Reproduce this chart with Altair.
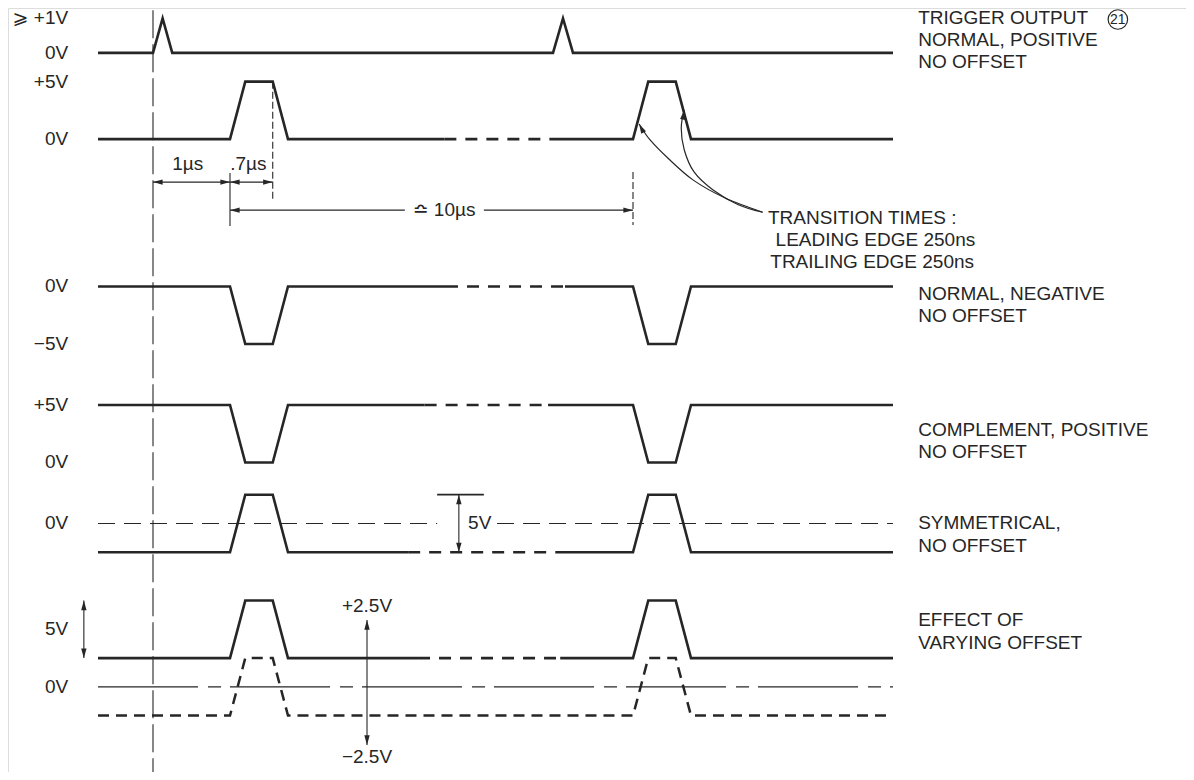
import altair as alt
import pandas as pd

# ---------------- signal data (time in µs, levels in volts) ----------------
T_START, T_END = -0.7, 14.6
TRIGGER_AT = [0.0, 10.0]          # trigger output spikes
TRIGGER_WIDTH = 0.25
TRIGGER_PEAK = 3.0                # "≥ +1V" spike as drawn
PULSE_AT = [1.0, 11.0]            # output pulse starts: 1 µs delay, 10 µs period
EDGE = 0.25                       # 250 ns leading / trailing edges
PULSE_WIDTH = 0.7                 # .7 µs

LANES = ["pos", "neg", "comp", "sym", "offs", "offs_low"]
REST_V = [0.0, 0.0, 5.0, -2.5, 2.5, -2.5]
ACTIVE_V = [5.0, -5.0, 0.0, 2.5, 7.5, 2.5]
BREAK_FROM = [6.7, 6.75, 6.1, 5.6, 5.9, None]   # time-break (dashed) section
BREAK_TO = [10.05, 10.15, 9.85, 10.03, 10.09, None]

# ---------------- layout (diagram units) ----------------
LANE_ZERO = {"trig": -3.9, "pos": -11.4, "neg": -24.2, "comp": -39.5,
             "sym": -44.8, "offs": -59.0, "offs_low": -59.0}
T_KNOTS = [-0.7, 0, 1, 1.95, 10, 11, 11.95, 14.6]     # not-to-scale time axis
X_RANGE = [90, 145, 222, 280, 545, 625, 683, 885]
Y_DOMAIN = [-66.4, 0]

rows = []


def add(seg, style, pts, zero=0.0):
    for i, (t, v) in enumerate(pts):
        rows.append(dict(id=seg, style=style, i=i, t=t, D=zero + v))


def wave(t0, t1, rest, active):
    pts = [(t0, rest)]
    for p in PULSE_AT:
        if t0 < p and p + PULSE_WIDTH + EDGE < t1:
            pts += [(p, rest), (p + EDGE, active), (p + PULSE_WIDTH, active),
                    (p + PULSE_WIDTH + EDGE, rest)]
    pts.append((t1, rest))
    return pts


# trigger output
trig = [(T_START, 0)]
for p in TRIGGER_AT:
    trig += [(p, 0), (p + TRIGGER_WIDTH / 2, TRIGGER_PEAK), (p + TRIGGER_WIDTH, 0)]
trig.append((T_END, 0))
add("trig", "solid", trig, LANE_ZERO["trig"])

for lane, r, a, b0, b1 in zip(LANES, REST_V, ACTIVE_V, BREAK_FROM, BREAK_TO):
    z = LANE_ZERO[lane]
    if b0 is None:
        add(lane, "offdash", wave(T_START, T_END, r, a), z)
    else:
        add(lane + "_a", "solid", wave(T_START, b0, r, a), z)
        add(lane + "_b", "dash", wave(b0, b1, r, a), z)
        add(lane + "_c", "solid", wave(b1, T_END, r, a), z)

# reference 0V lines
add("sym0a", "ref", [(T_START, 0), (6.48, 0)], LANE_ZERO["sym"])
add("sym0b", "ref", [(8.3, 0), (T_END, 0)], LANE_ZERO["sym"])
add("offs0", "phantom", [(T_START, 0), (T_END, 0)], LANE_ZERO["offs"])
add("tline", "tline", [(0, -0.2), (0, -66.4)])

# dimension / annotation lines
sz, oz = LANE_ZERO["sym"], LANE_ZERO["offs"]
add("d1", "ann", [(0, -15.13), (1, -15.13)])
add("d07", "ann", [(1, -15.13), (1.7, -15.13)])
add("d10a", "ann", [(1, -17.57), (5.5, -17.57)])
add("d10b", "ann", [(7.9, -17.57), (11, -17.57)])
add("m1", "ann", [(1, -14.34), (1, -18.95)])
add("bar5", "bar", [(6.48, 2.5), (7.9, 2.5)], sz)
add("v5", "ann", [(7.14, 2.5), (7.14, -2.5)], sz)
add("vo5", "ann", [(-0.88, 7.5), (-0.88, 2.5)], oz)
add("v25", "ann", [(4.35, 5.8), (4.35, -5.05)], oz)
add("m17", "annd", [(1.7, -6.4), (1.7, -16.69)])
add("m11", "annd", [(11, -14.25), (11, -18.86)])
add("c1", "curve", [(11.10, -10.08), (11.28, -11.47), (11.57, -13.04), (11.98, -14.96),
                    (12.40, -16.52), (12.89, -17.75)])
add("c2", "curve", [(11.84, -8.87), (11.79, -10.43), (11.84, -12.34), (11.99, -14.25),
                    (12.24, -15.82), (12.57, -17.1), (12.89, -17.75)])

lines = pd.DataFrame(rows)

heads = pd.DataFrame([
    (0, -15.13, 270), (1, -15.13, 90), (1, -15.13, 270), (1.7, -15.13, 90),
    (1, -17.57, 270), (11, -17.57, 90),
    (7.14, sz + 2.5, 0), (7.14, sz - 2.5, 180),
    (-0.88, oz + 7.5, 0), (-0.88, oz + 2.5, 180),
    (4.35, oz + 5.8, 0), (4.35, oz - 5.05, 180),
    (11.10, -10.08, 332), (11.84, -8.87, 9),
], columns=["t", "D", "angle"])

Z = LANE_ZERO
left_labels = pd.DataFrame([
    ("⩾ +1V", Z["trig"] + TRIGGER_PEAK), ("0V", Z["trig"]),
    ("+5V", Z["pos"] + 5), ("0V", Z["pos"]),
    ("0V", Z["neg"]), ("−5V", Z["neg"] - 5),
    ("+5V", Z["comp"] + 5), ("0V", Z["comp"]),
    ("0V", Z["sym"]),
    ("5V", Z["offs"] + 5), ("0V", Z["offs"]),
], columns=["label", "D"]).assign(t=-1.08)

right_labels = pd.DataFrame([
    ("TRIGGER OUTPUT", 14.93, -0.87), ("NORMAL, POSITIVE", 14.93, -2.78), ("NO OFFSET", 14.93, -4.69),
    ("TRANSITION TIMES :", 12.96, -18.25), ("LEADING EDGE 250ns", 13.06, -20.16),
    ("TRAILING EDGE 250ns", 12.99, -22.07),
    ("NORMAL, NEGATIVE", 14.93, -24.86), ("NO OFFSET", 14.93, -26.77),
    ("COMPLEMENT, POSITIVE", 14.93, -36.68), ("NO OFFSET", 14.93, -38.59),
    ("SYMMETRICAL,", 14.93, -44.76), ("NO OFFSET", 14.93, -46.76),
    ("EFFECT OF", 14.93, -53.19), ("VARYING OFFSET", 14.93, -55.19),
    ("5V", 7.42, sz),
], columns=["label", "t", "D"])

center_labels = pd.DataFrame([
    ("1µs", 0.45, -13.57), (".7µs", 1.3, -13.57), ("≏ 10µs", 6.69, -17.57),
    ("+2.5V", 4.35, -51.97), ("−2.5V", 4.35, -65.1),
], columns=["label", "t", "D"])

circle = pd.DataFrame([("21", 17.55, -1.0)], columns=["label", "t", "D"])

# ---------------- chart ----------------
INK = "#262626"
FONT = "Liberation Sans, DejaVu Sans, sans-serif"
FS = 19
xs = alt.Scale(domain=T_KNOTS, range=X_RANGE, nice=False, zero=False)
ys = alt.Scale(domain=Y_DOMAIN, nice=False, zero=False)
X = alt.X("t:Q", scale=xs, axis=None)
Y = alt.Y("D:Q", scale=ys, axis=None)

base = alt.Chart(lines).encode(x=X, y=Y, detail="id:N", order="i:Q")


def line_layer(style, **kw):
    return base.transform_filter(alt.datum.style == style).mark_line(color=INK, **kw)


layers = [
    line_layer("tline", strokeWidth=1.1, strokeDash=[28, 6]),
    line_layer("ref", strokeWidth=1.1, strokeDash=[17, 9]),
    line_layer("phantom", strokeWidth=1.2, strokeDash=[100, 10, 13, 9]),
    line_layer("ann", strokeWidth=1.1),
    line_layer("bar", strokeWidth=1.8),
    line_layer("annd", strokeWidth=1.1, strokeDash=[7, 3]),
    line_layer("curve", strokeWidth=1.2, interpolate="cardinal"),
    line_layer("solid", strokeWidth=2.6),
    line_layer("dash", strokeWidth=2.6, strokeDash=[12, 9]),
    line_layer("offdash", strokeWidth=2.5, strokeDash=[11, 7]),
    alt.Chart(heads).mark_point(shape="M0,0L0.9,3.2L-0.9,3.2Z", size=36, filled=True,
                                color=INK, opacity=1).encode(
        x=X, y=Y, angle=alt.Angle("angle:Q", scale=None)),
    alt.Chart(left_labels).mark_text(font=FONT, fontSize=FS, align="right", baseline="middle",
                                     color=INK).encode(x=X, y=Y, text="label:N"),
    alt.Chart(right_labels).mark_text(font=FONT, fontSize=FS, align="left", baseline="middle",
                                      color=INK).encode(x=X, y=Y, text="label:N"),
    alt.Chart(center_labels).mark_text(font=FONT, fontSize=FS, align="center", baseline="middle",
                                       color=INK).encode(x=X, y=Y, text="label:N"),
    alt.Chart(circle).mark_point(shape="circle", size=380, strokeWidth=1.2, color=INK,
                                 filled=False, opacity=1).encode(x=X, y=Y),
    alt.Chart(circle).mark_text(font=FONT, fontSize=14, align="center", baseline="middle",
                                color=INK).encode(x=X, y=Y, text="label:N"),
]

chart = alt.layer(*layers).properties(
    width=1178, height=764,
    autosize=alt.AutoSizeParams(type="none"), padding=0,
).configure_view(stroke=None).configure(background="white")

chart.save("out.html", embed_options={"renderer": "svg", "actions": False})
